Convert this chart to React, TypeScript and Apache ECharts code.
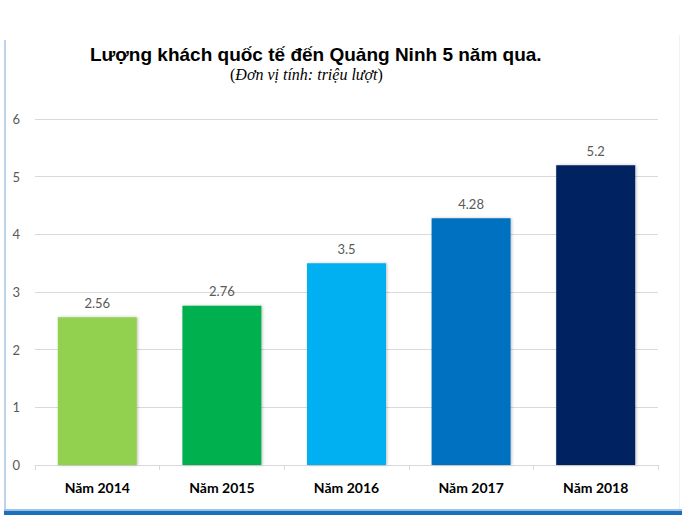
import React, { useEffect, useRef } from "react";
import * as echarts from "echarts";

const categories = ["Năm 2014", "Năm 2015", "Năm 2016", "Năm 2017", "Năm 2018"];
const values = [2.56, 2.76, 3.5, 4.28, 5.2];
const barColors = ["#92d050", "#00b050", "#00b0f0", "#0070c0", "#002060"];
const titleText = "Lượng khách quốc tế đến Quảng Ninh 5 năm qua.";

export default function App() {
  const ref = useRef<HTMLDivElement>(null);
  useEffect(() => {
    const chart = echarts.init(ref.current!, null, { renderer: "svg" });
    chart.setOption({
      animation: false,
      backgroundColor: "#ffffff",
      grid: { left: 35, right: 24, top: 119, bottom: 50, containLabel: false },
      xAxis: {
        type: "category",
        data: categories,
        axisLine: { show: true, lineStyle: { color: "#d9d9d9", width: 1 } },
        axisTick: { show: true, length: 5, lineStyle: { color: "#d9d9d9" } },
        axisLabel: {
          color: "#000000",
          fontWeight: "bold",
          fontSize: 14,
          fontFamily: "Lato, 'Open Sans', sans-serif",
          margin: 15,
        },
      },
      yAxis: {
        type: "value",
        min: 0,
        max: 6,
        interval: 1,
        axisLine: { show: false },
        axisTick: { show: false },
        splitLine: { lineStyle: { color: "#d9d9d9", width: 1 } },
        axisLabel: {
          color: "#595959",
          fontSize: 13,
          fontFamily: "Lato, 'Open Sans', sans-serif",
          margin: 15,
        },
      },
      series: [
        {
          type: "bar",
          data: values.map((v, i) => ({ value: v, itemStyle: { color: barColors[i] } })),
          barWidth: 79,
          itemStyle: {
            shadowColor: "rgba(0,0,0,0.25)",
            shadowBlur: 3,
            shadowOffsetX: 1,
            shadowOffsetY: 0,
          },
          label: {
            show: true,
            position: "top",
            distance: 8,
            color: "#595959",
            fontSize: 13,
            fontFamily: "Lato, 'Open Sans', sans-serif",
          },
        },
      ],
      graphic: [
        {
          type: "text",
          left: 90,
          top: 45,
          style: {
            text: titleText,
            font: "bold 19px 'Liberation Sans Narrow', 'Liberation Sans', Arial, sans-serif",
            fill: "#000000",
          },
        },
        {
          type: "text",
          left: 230,
          top: 66,
          style: {
            text: "{n|(}{i|Đơn vị tính: triệu lượt}{n|)}",
            fill: "#000000",
            rich: {
              n: { fontFamily: "'Liberation Serif', serif", fontSize: 16 },
              i: { fontFamily: "'Liberation Serif', serif", fontSize: 16, fontStyle: "italic" },
            },
          },
        },
        {
          type: "rect",
          shape: { x: 4, y: 40, width: 2, height: 472 },
          style: { fill: "#bcd3ea" },
        },
        {
          type: "rect",
          shape: { x: 679, y: 35, width: 1, height: 477 },
          style: { fill: "#eef3f8" },
        },
        {
          type: "rect",
          shape: { x: 4, y: 509, width: 678, height: 2 },
          style: { fill: "#9cc3e6" },
        },
        {
          type: "rect",
          shape: { x: 4, y: 511, width: 678, height: 4 },
          style: { fill: "#1b6fbd" },
        },
      ],
    });
    return () => chart.dispose();
  }, []);
  return (
    <div style={{ position: "fixed", left: 0, top: 0, width: 682, height: 515 }}>
      <div ref={ref} style={{ width: 682, height: 515 }} />
    </div>
  );
}
